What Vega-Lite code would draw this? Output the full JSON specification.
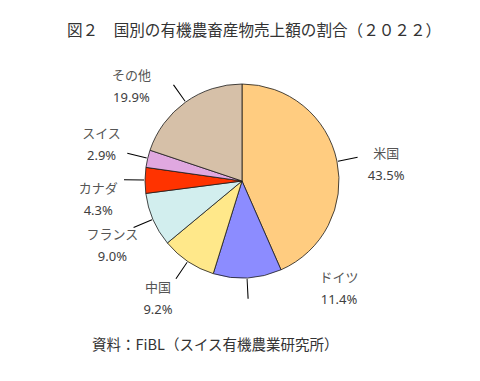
{
  "$schema": "https://vega.github.io/schema/vega-lite/v6.json",
  "padding": {"left": 4, "top": 24, "right": 0, "bottom": 0},
  "title": {
    "text": "図２　国別の有機農畜産物売上額の割合（２０２２）",
    "font": "Noto Sans CJK JP",
    "fontSize": 15.6,
    "fontWeight": "normal",
    "color": "#333333",
    "anchor": "middle",
    "dx": 12,
    "offset": 4
  },
  "config": {"view": {"stroke": null}},
  "vconcat": [
    {
      "width": 476,
      "height": 274,
      "title": {
        "text": "資料：FiBL（スイス有機農業研究所）",
        "orient": "bottom",
        "anchor": "start",
        "frame": "group",
        "dx": 88,
        "offset": 21,
        "font": "Noto Sans CJK JP",
        "fontSize": 14.5,
        "fontWeight": "normal",
        "color": "#333333"
      },
      "data": {
        "values": [
          {"country": "米国", "share": 43.5, "order": 1},
          {"country": "ドイツ", "share": 11.4, "order": 2},
          {"country": "中国", "share": 9.2, "order": 3},
          {"country": "フランス", "share": 9.0, "order": 4},
          {"country": "カナダ", "share": 4.3, "order": 5},
          {"country": "スイス", "share": 2.9, "order": 6},
          {"country": "その他", "share": 19.9, "order": 7}
        ]
      },
      "transform": [
        {"window": [{"op": "sum", "field": "share", "as": "end"}], "sort": [{"field": "order"}], "frame": [null, 0]},
        {"calculate": "datum.end - datum.share", "as": "start"},
        {"calculate": "datum.end - datum.share / 2", "as": "mid"},
        {"calculate": "datum.end - datum.share / 2 + 0.15", "as": "midEnd"},
        {"calculate": "format(datum.share, '.1f') + '%'", "as": "pct"}
      ],
      "resolve": {"scale": {"theta": "independent"}},
      "layer": [
        {
          "mark": {"type": "arc", "outerRadius": 97, "stroke": "#1a1a1a", "strokeWidth": 0.8},
          "encoding": {
            "theta": {"field": "start", "type": "quantitative", "stack": null, "scale": {"domain": [0, 100.2], "nice": false, "zero": false}},
            "theta2": {"field": "end"},
            "color": {
              "field": "country",
              "type": "nominal",
              "legend": null,
              "scale": {
                "domain": ["米国", "ドイツ", "中国", "フランス", "カナダ", "スイス", "その他"],
                "range": ["#FFCC80", "#8C8CFF", "#FFE88A", "#D2EEEE", "#FF3300", "#E0A8E0", "#D6C0A8"]
              }
            }
          }
        },
        {
          "mark": {"type": "arc", "radius": 118, "radius2": 98, "fill": "#000000"},
          "encoding": {
            "theta": {"field": "mid", "type": "quantitative", "stack": null, "scale": {"domain": [0, 100.2], "nice": false, "zero": false}},
            "theta2": {"field": "midEnd"}
          }
        },
        {
          "mark": {"type": "text", "radius": 145, "dy": -11, "font": "Noto Sans CJK JP", "fontSize": 13, "color": "#555555"},
          "encoding": {
            "theta": {
              "field": "mid",
              "type": "quantitative",
              "stack": null,
              "scale": {
                "domain": [0, 21.75, 49.2, 59.5, 68.6, 75.25, 78.85, 90.25, 100.2],
                "range": [0, 1.4626, 2.4086, 3.7595, 4.2481, 4.5833, 4.9637, 5.4158, 6.2832],
                "nice": false,
                "zero": false
              }
            },
            "text": {"field": "country"}
          }
        },
        {
          "mark": {"type": "text", "radius": 145, "dy": 11, "font": "Noto Sans", "fontSize": 13, "color": "#404040"},
          "encoding": {
            "theta": {
              "field": "mid",
              "type": "quantitative",
              "stack": null,
              "scale": {
                "domain": [0, 21.75, 49.2, 59.5, 68.6, 75.25, 78.85, 90.25, 100.2],
                "range": [0, 1.4626, 2.4086, 3.7595, 4.2481, 4.5833, 4.9637, 5.4158, 6.2832],
                "nice": false,
                "zero": false
              }
            },
            "text": {"field": "pct"}
          }
        }
      ]
    }
  ]
}
